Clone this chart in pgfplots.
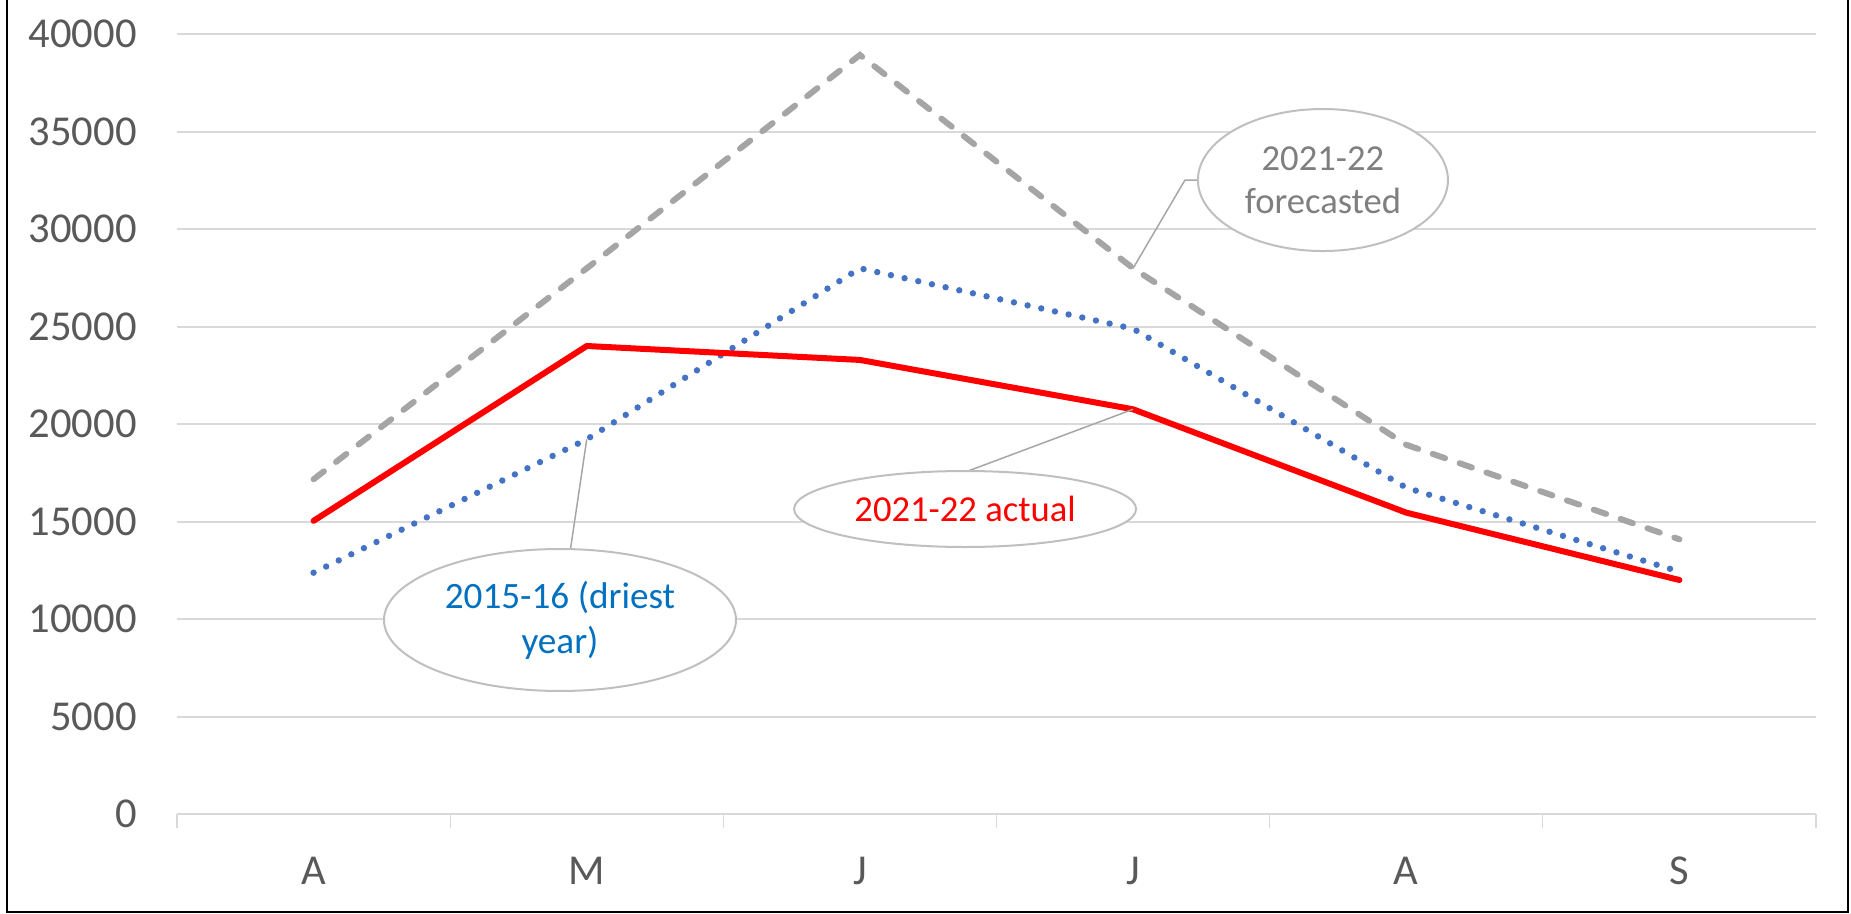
\documentclass[border=0pt]{standalone}
\usepackage{fontspec}
\setmainfont{Carlito}
\usepackage{pgfplots}
\pgfplotsset{compat=1.18}
\usetikzlibrary{shapes.geometric}
\definecolor{ctick}{HTML}{595959}
\definecolor{cgrid}{HTML}{D9D9D9}
\definecolor{cgray}{HTML}{A5A5A5}
\definecolor{cblue}{HTML}{4472C4}
\definecolor{cred}{HTML}{FF0000}
\definecolor{cedge}{HTML}{BFBFBF}
\definecolor{clead}{HTML}{A6A6A6}
\definecolor{ctxtgray}{HTML}{7F7F7F}
\definecolor{ctxtblue}{HTML}{0070C0}
\begin{document}
\begin{tikzpicture}
\path[use as bounding box] (-88.5pt,-49.85pt) rectangle (837pt,407.15pt);
\draw[black,line width=1pt] (-84.85pt,407.15pt) -- (-84.85pt,-48.85pt) -- (835.5pt,-48.85pt) -- (835.5pt,407.15pt);
\begin{axis}[
  scale only axis,
  width=819.5pt, height=390pt,
  xmin=-0.5, xmax=5.5, ymin=0, ymax=40000,
  xtick={0,1,2,3,4,5},
  xticklabels={A,M,J,J,A,S},
  ytick={0,5000,...,40000},
  scaled y ticks=false,
  /pgf/number format/1000 sep={},
  /pgf/number format/assume math mode=true,
  axis line style={draw=none},
  ymajorgrids=true,
  grid style={cgrid, line width=0.85pt},
  major tick length=0pt,
  tick pos=left,
  tick label style={font=\fontsize{21.3pt}{25pt}\selectfont, text=ctick},
  yticklabel style={anchor=east, inner sep=0pt, xshift=-20pt},
  xticklabel style={anchor=north, inner sep=0pt, yshift=-21.3pt},
  extra x ticks={-0.5,0.5,1.5,2.5,3.5,4.5,5.5},
  extra x tick labels={},
  extra x tick style={grid=none, major tick length=7pt, tick align=outside, tick style={cgrid, line width=0.6pt}},
  clip=false,
]
\addplot[cgray, line width=3pt, line cap=round, dash pattern=on 6.5pt off 7.7pt] coordinates {
  (0,17180) (1,28000) (2,38940) (3,28000) (4,18950) (5,14100)};
\addplot[cblue, line width=3.2pt, line cap=round, dash pattern=on 0pt off 7pt] coordinates {
  (0,12390) (1,19230) (2,28000) (3,24900) (4,16750) (5,12440)};
\addplot[cred, line width=3pt, line cap=round, line join=round] coordinates {
  (0,15050) (1,24015) (2,23300) (3,20770) (4,15470) (5,12015)};
% callout: forecasted
\draw[clead, line width=0.75pt] (axis cs:3,28000) -- (axis cs:3.19,32527) -- (axis cs:3.695,32527);
\node[draw=cedge, line width=1pt, fill=white, ellipse, minimum width=125pt, minimum height=71pt, inner sep=0pt] at (axis cs:3.695,32527) {};
\node[text=ctxtgray, align=center, font=\fontsize{18.3pt}{21.5pt}\selectfont] at (axis cs:3.695,32527) {2021-22\\forecasted};
% callout: driest
\draw[clead, line width=0.75pt] (axis cs:1,19230) -- (axis cs:0.902,9964);
\node[draw=cedge, line width=1pt, fill=white, ellipse, minimum width=176pt, minimum height=71pt, inner sep=0pt] at (axis cs:0.902,9964) {};
\node[text=ctxtblue, align=center, font=\fontsize{18.6pt}{22.5pt}\selectfont] at (axis cs:0.902,9964) {2015-16 (driest\\year)};
% callout: actual
\draw[clead, line width=0.75pt] (axis cs:3,20770) -- (axis cs:2.396,17605) -- (axis cs:2.385,15656);
\node[draw=cedge, line width=1pt, fill=white, ellipse, minimum width=171pt, minimum height=38pt, inner sep=0pt] at (axis cs:2.385,15656) {};
\node[text=cred, font=\fontsize{18.3pt}{21.5pt}\selectfont] at (axis cs:2.385,15656) {2021-22 actual};
\end{axis}
\end{tikzpicture}
\end{document}
